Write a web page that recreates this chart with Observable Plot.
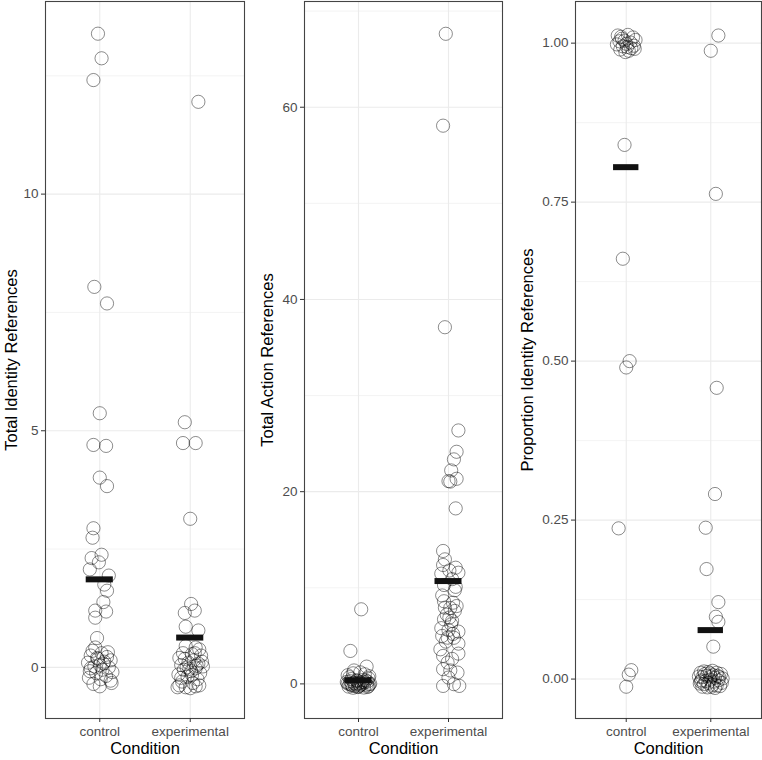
<!DOCTYPE html>
<html>
<head>
<meta charset="utf-8">
<script src="https://cdn.jsdelivr.net/npm/d3@7"></script>
<script src="https://cdn.jsdelivr.net/npm/@observablehq/plot@0.6"></script>
<style>
  html, body { margin: 0; padding: 0; background: #fff; }
  #row { display: flex; flex-direction: row; width: 762px; height: 760px; }
  #row svg { display: block; }
  #row svg g[aria-label$="tick label"] { font-size: 13.5px; }
</style>
</head>
<body>
<div id="row"></div>
<script>
// ---------- data (jitter offset, value) ----------
const conditions = ["control", "experimental"];
const xLabel = "Condition";

// Panel 1: Total Identity References
const identityLabel = "Total Identity References";
const identityControl = [
  [-0.02,13.39],[0.02,12.87],[-0.07,12.41],[-0.06,8.04],[0.08,7.69],[0.00,5.37],
  [-0.07,4.70],[0.07,4.68],[0.00,4.01],[0.08,3.83],[-0.07,2.94],[-0.08,2.74],
  [-0.09,2.31],[0.02,2.38],[-0.01,2.22],[-0.11,2.07],[0.10,1.94],[0.05,1.75],
  [0.08,1.62],[0.04,1.38],[-0.05,1.20],[0.07,1.18],[-0.05,1.05],[-0.03,0.62],
  [-0.05,0.42],[0.02,0.30],[-0.10,0.25],[0.08,0.22],[-0.02,0.18],[0.12,0.15],
  [-0.13,0.10],[0.04,0.08],[0.00,0.05],[-0.06,0.02],[0.10,0.00],[-0.10,-0.02],
  [0.03,-0.05],[0.14,-0.10],[-0.04,-0.12],[0.07,-0.18],[-0.12,-0.22],[0.12,-0.28],
  [-0.07,-0.35],[0.13,-0.33],[0.00,-0.40],[0.05,0.12],[-0.08,0.35],[0.01,-0.25],
  [-0.03,0.20],[0.09,0.32],[-0.11,-0.08]
];
const identityExperimental = [
  [0.09,11.95],[-0.06,5.18],[-0.08,4.74],[0.06,4.74],[0.00,3.14],[0.01,1.34],
  [0.05,1.20],[-0.06,1.15],[0.09,0.78],[-0.05,0.86],
  [-0.05,0.45],[0.06,0.42],[0.10,0.38],[-0.08,0.30],[0.02,0.28],[0.12,0.25],
  [-0.12,0.20],[0.04,0.15],[-0.02,0.10],[0.09,0.08],[-0.10,0.05],[0.14,0.02],
  [-0.04,0.00],[0.06,-0.02],[-0.07,-0.05],[0.01,-0.08],[0.11,-0.12],[-0.13,-0.15],
  [-0.03,-0.20],[0.08,-0.25],[-0.09,-0.30],[0.03,-0.33],[-0.12,-0.38],[0.10,-0.38],
  [-0.05,-0.42],[0.00,-0.44],[0.06,-0.40],[-0.14,-0.42],[0.05,0.30],[-0.06,0.18],
  [0.13,0.12],[-0.01,-0.03],[0.07,0.04],[-0.10,-0.22],[0.02,-0.16]
];
const identityMeans = [1.86, 0.63];
const identityTicks = [0, 5, 10];
const identityMinor = [2.5, 7.5, 12.5];
const identityDomain = [-1.08, 14.07];

// Panel 2: Total Action References
const actionLabel = "Total Action References";
const actionControl = [
  [0.03,7.76],[-0.09,3.43],[0.09,1.80],[-0.05,1.40],[0.02,1.20],[-0.12,0.90],
  [0.12,0.80],[-0.08,0.50],[0.05,0.40],[-0.02,0.30],[0.10,0.25],[-0.13,0.20],
  [0.07,0.15],[-0.05,0.10],[0.00,0.05],[0.13,0.02],[-0.10,0.00],[0.04,-0.03],
  [-0.03,-0.06],[0.09,-0.10],[-0.07,-0.15],[0.01,-0.20],[0.11,-0.25],[-0.11,-0.28],
  [-0.01,-0.33],[0.06,-0.38],[-0.06,-0.40],[0.03,0.12],[-0.09,0.28],[0.08,0.35],
  [-0.04,-0.22],[0.12,-0.05],[-0.12,0.05],[0.02,-0.12],[0.05,0.22],[-0.02,0.38],
  [0.10,-0.32],[-0.08,-0.08],[0.00,-0.30],[0.07,1.00],[-0.06,1.10],[0.11,0.60],
  [-0.10,0.70]
];
const actionExperimental = [
  [-0.03,67.64],[-0.06,58.08],[-0.04,37.11],[0.11,26.37],[0.09,24.15],[0.06,23.36],
  [0.03,22.21],[0.09,21.34],[0.00,21.10],[0.02,21.05],[0.08,18.26],[-0.06,13.83],
  [-0.04,12.96],[-0.06,12.37],[-0.08,11.47],[0.08,12.09],[0.11,11.57],[-0.05,10.29],
  [0.07,9.74],[0.05,8.45],[-0.04,7.93],[0.02,7.90],[0.07,7.59],[-0.05,6.72],
  [0.04,6.55],[0.11,5.44],[-0.07,4.99],[-0.01,4.81],[0.06,4.80],[0.11,4.19],
  [-0.06,2.91],[0.11,3.15],[-0.01,2.22],[-0.06,1.53],[0.02,1.40],[0.10,1.18],
  [0.00,0.66],[-0.06,-0.21],[0.06,-0.03],[0.12,-0.21],
  [0.01,11.80],[0.04,10.90],[-0.07,9.20],[0.09,8.10],[-0.02,7.20],[0.03,6.20],
  [-0.08,5.80],[0.05,5.20],[-0.03,4.40],[0.01,6.90],[-0.05,8.60],[0.08,10.10],
  [-0.09,3.60],[0.04,2.60],[0.00,5.60]
];
const actionMeans = [0.38, 10.7];
const actionTicks = [0, 20, 40, 60];
const actionMinor = [10, 30, 50, 70];
const actionDomain = [-3.6, 71.0];

// Panel 3: Proportion Identity References
const proportionLabel = "Proportion Identity References";
const proportionControl = [
  [-0.10,1.012],[-0.06,1.010],[0.02,1.013],[0.08,1.009],[0.11,1.005],[-0.08,1.003],
  [-0.02,1.004],[0.05,1.001],[-0.11,0.998],[0.09,0.996],[-0.04,0.995],[0.01,0.994],
  [0.06,0.992],[-0.07,0.990],[0.03,0.988],[-0.01,0.986],[0.10,0.991],[-0.05,1.007],
  [0.00,0.999],
  [-0.02,0.840],[-0.04,0.661],[0.04,0.500],[0.00,0.490],[-0.09,0.237],
  [0.06,0.014],[0.03,0.007],[0.00,-0.012]
];
const proportionExperimental = [
  [0.09,1.012],[0.00,0.988],[0.06,0.763],[0.07,0.458],[0.05,0.291],[-0.06,0.238],
  [-0.05,0.173],[0.09,0.121],[0.06,0.098],[0.09,0.090],[0.03,0.051],
  [-0.12,0.010],[-0.08,0.012],[-0.03,0.011],[0.02,0.013],[0.07,0.010],[0.12,0.008],
  [-0.14,0.004],[-0.10,0.003],[-0.05,0.005],[0.00,0.004],[0.05,0.002],[0.10,0.003],
  [0.14,0.001],[-0.11,-0.002],[-0.06,-0.003],[-0.01,-0.001],[0.04,-0.004],[0.09,-0.002],
  [0.13,-0.006],[-0.13,-0.007],[-0.08,-0.008],[-0.03,-0.006],[0.02,-0.009],[0.07,-0.010],
  [0.11,-0.011],[-0.10,-0.012],[-0.04,-0.013],[0.01,-0.012],[0.05,-0.014],[-0.07,0.008],
  [0.03,0.006],[-0.01,0.009],[0.08,0.005],[-0.12,-0.004]
];
const proportionMeans = [0.805, 0.077];
const proportionTicks = [0, 0.25, 0.5, 0.75, 1];
const proportionMinor = [0.125, 0.375, 0.625, 0.875];
const proportionDomain = [-0.062, 1.0655];

// ---------- build ----------
const FONT = "'Liberation Sans', Arial, Helvetica, sans-serif";

function toRows(ctrl, expt) {
  return [
    ...ctrl.map(([j, v]) => ({pos: 1 + j, value: v})),
    ...expt.map(([j, v]) => ({pos: 2 + j, value: v}))
  ];
}

function panel({rows, means, ticks, minor, domain, label, tickFormat, marginLeft, marginRight, labelDx}) {
  const meanRows = means.map((m, i) => ({pos: i + 1, mean: m}));
  return Plot.plot({
    width: 254,
    height: 760,
    marginTop: 1,
    marginBottom: 42,
    marginLeft,
    marginRight,
    style: {fontFamily: FONT, fontSize: "13.5px", fontWeight: "normal", background: "white", overflow: "visible"},
    x: {type: "linear", domain: [0.4, 2.6]},
    y: {type: "linear", domain},
    marks: [
      Plot.ruleY(minor, {stroke: "#f0f0f0", strokeWidth: 0.8}),
      Plot.ruleY(ticks, {stroke: "#ebebeb", strokeWidth: 1.1}),
      Plot.ruleX([1, 2], {stroke: "#ebebeb", strokeWidth: 1.1}),
      Plot.dot(rows, {x: "pos", y: "value", r: 6.6, fill: "none", stroke: "black", strokeOpacity: 0.45, strokeWidth: 1}),
      Plot.ruleY(meanRows, {y: "mean", x1: d => d.pos - 0.15, x2: d => d.pos + 0.15, stroke: "#111", strokeWidth: 6}),
      Plot.frame({stroke: "#444", strokeWidth: 1.1}),
      Plot.axisY({ticks, tickFormat, tickSize: 4, tickPadding: 3, label: null, stroke: "#333", fill: "#4d4d4d", fontSize: 13.5}),
      Plot.axisX({ticks: [1, 2], tickFormat: d => conditions[d - 1], tickSize: 4, tickPadding: 4, label: null, stroke: "#333", fill: "#4d4d4d", fontSize: 13.5}),
      Plot.text([label], {frameAnchor: "left", textAnchor: "middle", text: d => d, rotate: -90, dx: labelDx, fontSize: 16.5, fontWeight: "normal", fill: "black"}),
      Plot.text([xLabel], {frameAnchor: "bottom", textAnchor: "middle", text: d => d, dy: 35, fontSize: 16.5, fontWeight: "normal", fill: "black"})
    ]
  });
}

const row = document.getElementById("row");
row.append(panel({
  rows: toRows(identityControl, identityExperimental), means: identityMeans,
  ticks: identityTicks, minor: identityMinor, domain: identityDomain,
  label: identityLabel, tickFormat: d => String(d), marginLeft: 45, marginRight: 10, labelDx: -34
}));
row.append(panel({
  rows: toRows(actionControl, actionExperimental), means: actionMeans,
  ticks: actionTicks, minor: actionMinor, domain: actionDomain,
  label: actionLabel, tickFormat: d => String(d), marginLeft: 50, marginRight: 6, labelDx: -37
}));
row.append(panel({
  rows: toRows(proportionControl, proportionExperimental), means: proportionMeans,
  ticks: proportionTicks, minor: proportionMinor, domain: proportionDomain,
  label: proportionLabel, tickFormat: d3.format(".2f"), marginLeft: 67, marginRight: 1, labelDx: -48
}));
</script>
</body>
</html>
